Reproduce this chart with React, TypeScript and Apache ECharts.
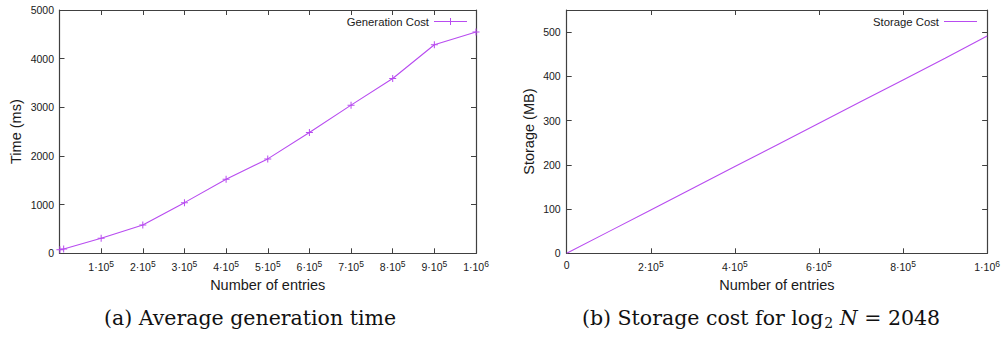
import React, { useEffect, useRef } from "react";
import * as echarts from "echarts";

// ---- Data ----
const genEntries = [1000, 10000, 100000, 200000, 300000, 400000, 500000, 600000, 700000, 800000, 900000, 1000000];
const genTimeMs = [75, 90, 309, 582, 1041, 1523, 1940, 2481, 3045, 3593, 4286, 4547];

const storageEntries = [0, 100000, 200000, 300000, 400000, 500000, 600000, 700000, 800000, 900000, 1000000];
const storageMB = [0, 49, 98, 147, 196, 245, 294, 343, 392, 441, 491];

const seriesNames = ["Generation Cost", "Storage Cost"];
const axisTitles = { x: "Number of entries", yLeft: "Time (ms)", yRight: "Storage (MB)" };
const captionA = "(a) Average generation time";

const FONT = "Liberation Sans, Arial, sans-serif";
const LINE_COLOR = "#b84cf0";
const AXIS_COLOR = "#404040";
const TEXT_COLOR = "#1a1a1a";

function sciLabel(v: number): string {
  if (v === 0) return "{b|0}";
  const e = Math.floor(Math.log10(v) + 1e-9);
  const m = Math.round(v / Math.pow(10, e));
  return `{b|${m}·10}{s|${e}}`;
}

const richSci = {
  b: { fontSize: 10.5, fontFamily: FONT, color: TEXT_COLOR },
  s: { fontSize: 8.5, fontFamily: FONT, color: TEXT_COLOR, padding: [0, 0, 7, 0] },
};

const plusSymbol = "path://M3,0H4V3H7V4H4V7H3V4H0V3H3Z";
const linePlusIcon = "path://M0,3H16V0H17V3H33V4H17V7H16V4H0Z";
const lineIcon = "path://M0,0H33V1H0Z";

function frameAxis(base: any) {
  return {
    type: "value",
    axisLine: { show: true, onZero: false, lineStyle: { color: AXIS_COLOR, width: 1.2 } },
    axisTick: { show: true, inside: true, length: 5, lineStyle: { color: AXIS_COLOR, width: 1 } },
    splitLine: { show: false },
    ...base,
  };
}

export default function App() {
  const ref = useRef<HTMLDivElement>(null);
  useEffect(() => {
    if (!ref.current) return;
    const chart = echarts.init(ref.current, undefined, { renderer: "svg" });
    const gridA = { left: 59.5, top: 10, right: 527, bottom: 84.7 };
    const gridB = { left: 566.7, top: 10, right: 14.7, bottom: 84.7 };
    const option: any = {
      animation: false,
      backgroundColor: "#ffffff",
      grid: [gridA, gridB],
      xAxis: [
        frameAxis({
          gridIndex: 0, position: "bottom", min: 0, max: 1000000, interval: 100000,
          name: axisTitles.x, nameLocation: "middle", nameGap: 22,
          nameTextStyle: { fontFamily: FONT, fontSize: 14.5, color: TEXT_COLOR },
          axisLabel: {
            margin: 6,
            formatter: (v: number) => (v === 0 ? "" : sciLabel(v)),
            rich: richSci,
          },
        }),
        frameAxis({ gridIndex: 0, position: "top", min: 0, max: 1000000, interval: 100000, axisLabel: { show: false } }),
        frameAxis({
          gridIndex: 1, position: "bottom", min: 0, max: 1000000, interval: 200000,
          name: axisTitles.x, nameLocation: "middle", nameGap: 22,
          nameTextStyle: { fontFamily: FONT, fontSize: 14.5, color: TEXT_COLOR },
          axisLabel: { margin: 6, formatter: (v: number) => sciLabel(v), rich: richSci },
        }),
        frameAxis({ gridIndex: 1, position: "top", min: 0, max: 1000000, interval: 200000, axisLabel: { show: false } }),
      ],
      yAxis: [
        frameAxis({
          gridIndex: 0, position: "left", min: 0, max: 5000, interval: 1000,
          name: axisTitles.yLeft, nameLocation: "middle", nameGap: 36,
          nameTextStyle: { fontFamily: FONT, fontSize: 14.5, color: TEXT_COLOR },
          axisLabel: {
            margin: 5.5, fontFamily: FONT, fontSize: 10.5, color: TEXT_COLOR,
            formatter: (v: number) => String(v),
          },
        }),
        frameAxis({ gridIndex: 0, position: "right", min: 0, max: 5000, interval: 1000, axisLabel: { show: false } }),
        frameAxis({
          gridIndex: 1, position: "left", min: 0, max: 550, interval: 100,
          name: axisTitles.yRight, nameLocation: "middle", nameGap: 30,
          nameTextStyle: { fontFamily: FONT, fontSize: 14.5, color: TEXT_COLOR },
          axisLabel: {
            margin: 6, fontFamily: FONT, fontSize: 10.5, color: TEXT_COLOR,
            formatter: (v: number) => (v > 500 ? "" : String(v)),
          },
        }),
        frameAxis({ gridIndex: 1, position: "right", min: 0, max: 550, interval: 100, axisLabel: { show: false } }),
      ],
      legend: [
        {
          data: [{ name: seriesNames[0], icon: linePlusIcon, itemStyle: { color: LINE_COLOR, borderWidth: 0 } }],
          right: 536, top: 16, align: "right", orient: "horizontal",
          itemWidth: 33, itemHeight: 7, padding: 0,
          textStyle: { fontFamily: FONT, fontSize: 11.3, color: TEXT_COLOR },
        },
        {
          data: [{ name: seriesNames[1], icon: lineIcon, itemStyle: { color: LINE_COLOR, borderWidth: 0 } }],
          right: 26, top: 16, align: "right", orient: "horizontal",
          itemWidth: 33, itemHeight: 1.3, padding: 0,
          textStyle: { fontFamily: FONT, fontSize: 11.3, color: TEXT_COLOR },
        },
      ],
      series: [
        {
          name: seriesNames[0], type: "line", xAxisIndex: 0, yAxisIndex: 0,
          data: genEntries.map((x, i) => [x, genTimeMs[i]]),
          symbol: plusSymbol, symbolSize: 7, showSymbol: true,
          lineStyle: { color: LINE_COLOR, width: 1.1 },
          itemStyle: { color: LINE_COLOR },
        },
        {
          name: seriesNames[1], type: "line", xAxisIndex: 2, yAxisIndex: 2,
          data: storageEntries.map((x, i) => [x, storageMB[i]]),
          symbol: "none", showSymbol: false,
          lineStyle: { color: LINE_COLOR, width: 1.1 },
          itemStyle: { color: LINE_COLOR },
        },
      ],
      graphic: [
        {
          type: "text", x: 250, y: 318,
          style: {
            text: captionA, fill: "#111", textAlign: "center", textVerticalAlign: "middle",
            font: "20.5px 'DejaVu Serif', serif",
          },
        },
        {
          type: "text", x: 761, y: 318,
          style: {
            text: "{r|(b) Storage cost for log}{sub|2}{it| N}{r| = 2048}",
            textAlign: "center", textVerticalAlign: "middle",
            rich: {
              r: { fontFamily: "DejaVu Serif", fontSize: 20.5, fill: "#111" },
              sub: { fontFamily: "DejaVu Serif", fontSize: 14, fill: "#111", padding: [9, 0, 0, 1] },
              it: { fontFamily: "DejaVu Serif", fontStyle: "italic", fontSize: 20.5, fill: "#111" },
            },
          },
        },
      ],
    };
    chart.setOption(option);
    return () => chart.dispose();
  }, []);
  return (
    <div
      ref={ref}
      style={{ position: "fixed", left: 0, top: 0, width: 1003, height: 338, background: "#fff" }}
    />
  );
}
